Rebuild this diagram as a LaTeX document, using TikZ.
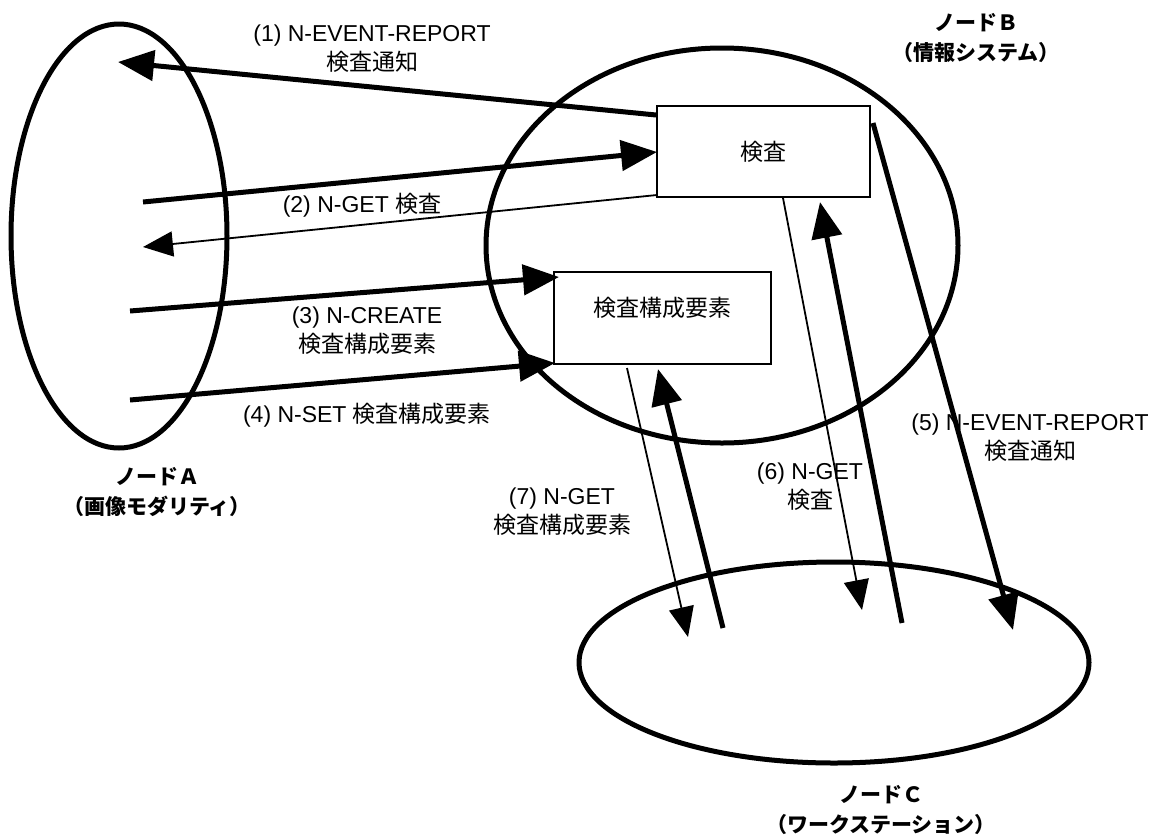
\documentclass[tikz,border=0pt]{standalone}
\usepackage{fontspec}
\setmainfont{Liberation Sans}
\newfontfamily\jp{Noto Sans CJK JP}
\usetikzlibrary{shapes.geometric}
\usetikzlibrary{arrows.meta}
\tikzset{nd/.style={draw,ellipse,line width=5pt,inner sep=0pt}}
\tikzset{obj/.style={draw,rectangle,line width=2pt,inner sep=0pt,font=\jp\fontsize{23}{29}\selectfont}}
\tikzset{thk/.style={line width=5pt,-{Triangle[length=36pt,width=30pt]}}}
\tikzset{thn/.style={line width=1.8pt,-{Triangle[length=30pt,width=25pt]}}}
\tikzset{lbl/.style={align=center,inner sep=0pt,font=\fontsize{23}{29}\selectfont}}
\tikzset{nm/.style={align=center,inner sep=0pt,font=\jp\bfseries\fontsize{21}{30}\selectfont}}
\begin{document}
\begin{tikzpicture}[x=1pt,y=-1pt]
\useasboundingbox (0,0) rectangle (1165,836);

\node[nd, minimum width=216, minimum height=424] (A) at (119,236) {};
\node[nd, minimum width=472, minimum height=395] (B) at (722,245.5) {};
\node[nd, minimum width=510, minimum height=201] (C) at (834,662.5) {};

\node[obj, minimum width=213, minimum height=91] (exam) at (763.5,151.5) {検査};
\node[obj, minimum width=217, minimum height=92, text depth=22pt] (comp) at (662.5,318) {検査構成要素};

\node[nm] (nA) at (157,492) {ノードＡ\\（画像モダリティ）};
\node[nm] (nB) at (976,38) {ノードＢ\\（情報システム）};
\node[nm] (nC) at (881,810) {ノードＣ\\（ワークステーション）};

% A <-> B
\coordinate (r1s) at (656,115);  \coordinate (r1t) at (118,62);
\coordinate (g2s) at (143,202);  \coordinate (g2t) at (657,152);
\coordinate (g2r) at (657,195);  \coordinate (g2b) at (143,247);
\coordinate (c3s) at (130,311);  \coordinate (c3t) at (559,277);
\coordinate (s4s) at (130,400);  \coordinate (s4t) at (555,363);

\draw[thk] (r1s) -- (r1t);
\draw[thk] (g2s) -- (g2t);
\draw[thn] (g2r) -- (g2b);
\draw[thk] (c3s) -- (c3t);
\draw[thk] (s4s) -- (s4t);

% B <-> C
\coordinate (r5s) at (873,123);  \coordinate (r5t) at (1013,630);
\coordinate (g6r) at (783,198);  \coordinate (g6b) at (862,610);
\coordinate (g6s) at (902,623);  \coordinate (g6t) at (820,202);
\coordinate (g7r) at (627,368);  \coordinate (g7b) at (688,637);
\coordinate (g7s) at (723,628);  \coordinate (g7t) at (658,369);

\draw[thk] (r5s) -- (r5t);
\draw[thn] (g6r) -- (g6b);
\draw[thk] (g6s) -- (g6t);
\draw[thn] (g7r) -- (g7b);
\draw[thk] (g7s) -- (g7t);

\node[lbl] (l1) at (372,49) {(1) N-EVENT-REPORT\\{\jp 検査通知}};
\node[lbl] (l2) at (362,205) {(2) N-GET {\jp 検査}};
\node[lbl] (l3) at (367,331) {(3) N-CREATE\\{\jp 検査構成要素}};
\node[lbl] (l4) at (367,415) {(4) N-SET {\jp 検査構成要素}};
\node[lbl] (l5) at (1030,438) {(5) N-EVENT-REPORT\\{\jp 検査通知}};
\node[lbl] (l6) at (810,487) {(6) N-GET\\{\jp 検査}};
\node[lbl] (l7) at (562,512) {(7) N-GET\\{\jp 検査構成要素}};
\end{tikzpicture}
\end{document}
